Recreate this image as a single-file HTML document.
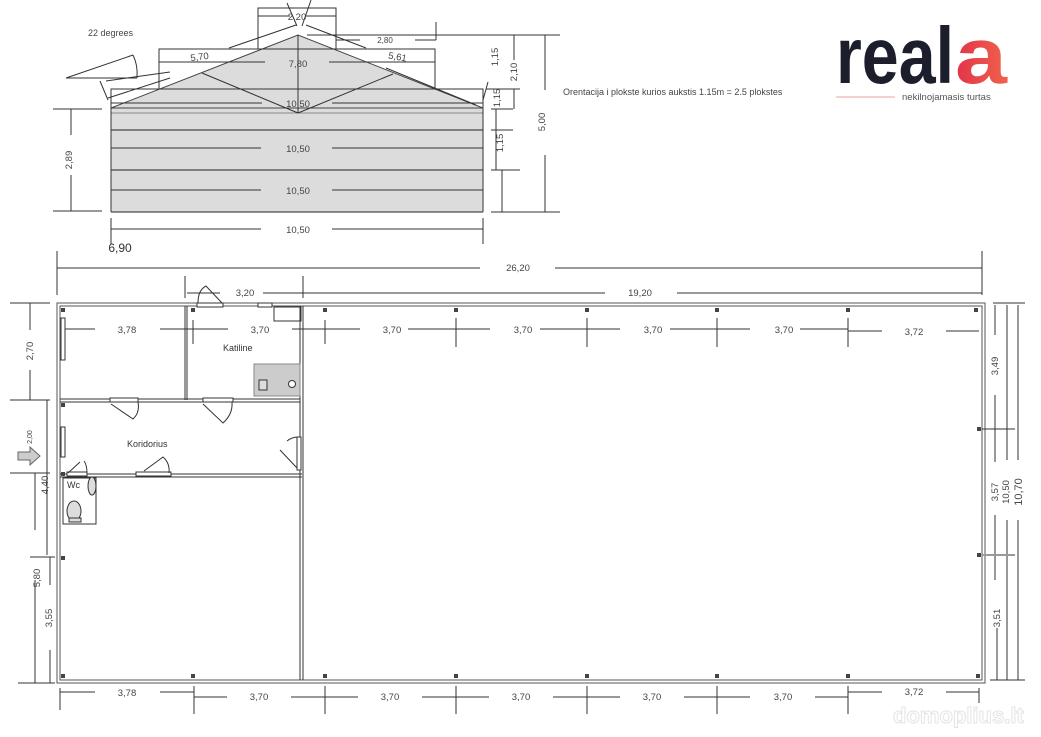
<!DOCTYPE html>
<html><head><meta charset="utf-8"><style>
html,body{margin:0;padding:0;background:#fff;}
svg{display:block;font-family:"Liberation Sans",sans-serif;}
.t{font-size:9.5px;fill:#444;text-anchor:middle;}
.s{font-size:8px;fill:#444;text-anchor:middle;}
</style></head><body>
<svg width="1041" height="737" viewBox="0 0 1041 737" xmlns="http://www.w3.org/2000/svg">
<rect width="1041" height="737" fill="#fff"/>
<g stroke="#333" stroke-width="1" fill="none">
<rect x="111" y="108" width="372" height="104" fill="#dcdcdc" stroke="none"/>
<polygon points="111,108 298,35 483,108" fill="#dcdcdc" stroke="#444"/>
<line x1="111" y1="113" x2="483" y2="113" stroke="#888"/>
<line x1="111" y1="130" x2="483" y2="130" stroke="#222"/>
<line x1="111" y1="170" x2="483" y2="170" stroke="#222"/>
<line x1="111" y1="212" x2="483" y2="212" stroke="#222"/>
<line x1="111" y1="108" x2="111" y2="212"/>
<line x1="483" y1="108" x2="483" y2="212"/>
<line x1="298" y1="35" x2="298" y2="113"/>
<line x1="298" y1="113" x2="202" y2="73"/>
<line x1="298" y1="113" x2="393" y2="74"/>
<line x1="111" y1="103" x2="262" y2="103"/><line x1="332" y1="103" x2="483" y2="103"/>
<line x1="111" y1="148" x2="261" y2="148"/><line x1="332" y1="148" x2="483" y2="148"/>
<line x1="111" y1="190" x2="261" y2="190"/><line x1="332" y1="190" x2="483" y2="190"/>
<polyline points="111,108 111,89 483,89 483,108"/>
<polyline points="159,89 159,49 435,49 435,89"/>
<line x1="159" y1="62" x2="265" y2="62"/><line x1="329" y1="62" x2="435" y2="62"/>
<polyline points="258,49 258,8 336,8 336,49"/>
<line x1="258" y1="16" x2="290" y2="16"/><line x1="306" y1="16" x2="336" y2="16"/>
<line x1="229" y1="48" x2="296" y2="25"/><line x1="306" y1="25" x2="366" y2="48"/>
<line x1="287" y1="3" x2="297" y2="26"/><line x1="311" y1="0" x2="302" y2="26"/>
<line x1="307" y1="35" x2="560" y2="35"/><line x1="336" y1="40" x2="360" y2="40"/><line x1="415" y1="40" x2="436" y2="40"/>
<line x1="436" y1="22" x2="436" y2="40"/>
<line x1="106" y1="81" x2="170" y2="72"/><line x1="108" y1="98" x2="170" y2="78"/>
<line x1="66" y1="78" x2="133" y2="55"/><line x1="66" y1="78" x2="137" y2="78"/>
<path d="M133,55 Q138,65 137,78"/>
<line x1="100" y1="81" x2="108" y2="100"/>
<line x1="386" y1="68" x2="476" y2="105"/><line x1="483" y1="100" x2="488" y2="82"/>
<line x1="53" y1="109" x2="102" y2="109"/><line x1="53" y1="211" x2="102" y2="211"/>
<line x1="71" y1="109" x2="71" y2="135"/><line x1="71" y1="175" x2="71" y2="211"/>
<line x1="491" y1="109" x2="513" y2="109"/><line x1="491" y1="130" x2="513" y2="130"/>
<line x1="496" y1="109" x2="496" y2="170"/><line x1="491" y1="170" x2="520" y2="170"/>
<line x1="502" y1="170" x2="502" y2="212"/><line x1="491" y1="212" x2="560" y2="212"/>
<line x1="486" y1="89" x2="520" y2="89"/><line x1="514" y1="89" x2="514" y2="109"/>
<line x1="545" y1="35" x2="545" y2="90"/><line x1="545" y1="155" x2="545" y2="212"/>
<line x1="514" y1="35" x2="514" y2="60"/>
<line x1="111" y1="218" x2="111" y2="244"/><line x1="483" y1="218" x2="483" y2="244"/>
<line x1="111" y1="229" x2="261" y2="229"/><line x1="332" y1="229" x2="483" y2="229"/>
</g>
<g>
<text x="88" y="36" style="font-size:9px;fill:#444">22 degrees</text>
<text class="t" x="297" y="20">2,20</text>
<text class="s" x="385" y="43">2,80</text>
<text class="t" x="298" y="67">7,80</text>
<text class="t" x="200" y="60" transform="rotate(-8 200 60)">5,70</text>
<text class="t" x="397" y="60" transform="rotate(10 397 60)">5,61</text>
<text class="t" x="298" y="107">10,50</text>
<text class="t" x="298" y="152">10,50</text>
<text class="t" x="298" y="194">10,50</text>
<text class="t" x="298" y="233">10,50</text>
<text class="t" transform="translate(72 160) rotate(-90)">2,89</text>
<text class="t" transform="translate(498 57) rotate(-90)">1,15</text>
<text class="t" transform="translate(517 72) rotate(-90)">2,10</text>
<text class="t" transform="translate(500 98) rotate(-90)">1,15</text>
<text class="t" transform="translate(503 143) rotate(-90)">1,15</text>
<text class="t" transform="translate(545 122) rotate(-90)">5,00</text>
<text x="563" y="95" style="font-size:9px;fill:#444">Orentacija i plokste kurios aukstis 1.15m = 2.5 plokstes</text>
</g>
<defs><linearGradient id="g" x1="0" x2="1"><stop offset="0" stop-color="#e2334b"/><stop offset="1" stop-color="#f0634c"/></linearGradient></defs>
<text x="836" y="83" textLength="118" lengthAdjust="spacingAndGlyphs" style="font-size:80px;font-weight:bold;fill:#1c1e2c">real</text>
<text x="955" y="83" textLength="52" lengthAdjust="spacingAndGlyphs" style="font-size:80px;font-weight:bold;fill:url(#g)">a</text>
<line x1="836" y1="97" x2="895" y2="97" stroke="#e8a0a0"/>
<text x="902" y="100" style="font-size:9.5px;fill:#555">nekilnojamasis turtas</text>
<g stroke="#333" fill="none" stroke-width="1">
<text class="t" x="120" y="252" style="font-size:12px;fill:#333" stroke="none">6,90</text>
<line x1="57" y1="251" x2="57" y2="295"/><line x1="982" y1="251" x2="982" y2="295"/>
<line x1="57" y1="268" x2="480" y2="268"/><line x1="555" y1="268" x2="982" y2="268"/>
<line x1="185" y1="276" x2="185" y2="298"/><line x1="303" y1="276" x2="303" y2="298"/>
<line x1="187" y1="293" x2="220" y2="293"/><line x1="263" y1="293" x2="303" y2="293"/>
<line x1="303" y1="293" x2="605" y2="293"/><line x1="677" y1="293" x2="982" y2="293"/>
<rect x="57" y="303" width="928" height="380" stroke="#555"/>
<rect x="60" y="306" width="922" height="374" stroke="#555"/>
<line x1="300" y1="306" x2="300" y2="680"/><line x1="303" y1="306" x2="303" y2="680"/>
<line x1="185" y1="306" x2="185" y2="400"/><line x1="187" y1="306" x2="187" y2="400"/>
<line x1="60" y1="399" x2="300" y2="399"/><line x1="60" y1="402" x2="300" y2="402"/>
<line x1="60" y1="474" x2="302" y2="474"/><line x1="60" y1="477" x2="302" y2="477"/>
<rect x="197" y="303" width="26" height="4" fill="#fff"/><rect x="258" y="303" width="14" height="4" fill="#fff"/>
<rect x="274" y="307" width="27" height="14"/>
<rect x="254" y="364" width="46" height="32" fill="#ccc" stroke="#888"/>
<rect x="259" y="380" width="8" height="10" fill="#ddd"/><circle cx="292" cy="384" r="3.5" fill="#fff"/>
<path d="M198,303 Q198,290 206,286 L222,303"/>
<rect x="110" y="398" width="28" height="4" fill="#fff"/><rect x="203" y="398" width="30" height="4" fill="#fff"/>
<path d="M111,404 L133,419 Q140,413 138,402"/><path d="M203,404 L223,423 Q233,414 232,402"/>
<rect x="136" y="472" width="35" height="4" fill="#fff"/><path d="M144,471 L163,457 Q170,463 169,473"/>
<rect x="297" y="437" width="4" height="33" fill="#fff"/><path d="M280,450 L297,468 M287,441 Q292,437 298,437"/>
<rect x="61" y="318" width="4" height="42" fill="#fff"/><rect x="61" y="427" width="4" height="30" fill="#fff"/>
<rect x="67" y="472" width="20" height="4" fill="#fff"/><path d="M68,473 L80,462 M84,461 Q87,465 87,473"/>
<rect x="63" y="478" width="33" height="46"/>
<ellipse cx="92" cy="486" rx="4" ry="9" fill="#ddd"/><ellipse cx="74" cy="511" rx="7" ry="10" fill="#ddd"/>
<rect x="69" y="518" width="12" height="4" fill="#ddd"/>
<line x1="65" y1="329" x2="95" y2="329"/><line x1="160" y1="329" x2="193" y2="329"/>
<line x1="193" y1="320" x2="193" y2="344"/><line x1="193" y1="329" x2="228" y2="329"/><line x1="292" y1="329" x2="325" y2="329"/>
<line x1="325" y1="320" x2="325" y2="344"/><line x1="325" y1="329" x2="360" y2="329"/><line x1="408" y1="329" x2="456" y2="329"/>
<line x1="456" y1="318" x2="456" y2="347"/><line x1="456" y1="329" x2="490" y2="329"/><line x1="540" y1="329" x2="587" y2="329"/>
<line x1="587" y1="318" x2="587" y2="347"/><line x1="587" y1="329" x2="620" y2="329"/><line x1="670" y1="329" x2="717" y2="329"/>
<line x1="717" y1="318" x2="717" y2="347"/><line x1="717" y1="329" x2="750" y2="329"/><line x1="800" y1="329" x2="848" y2="329"/>
<line x1="848" y1="318" x2="848" y2="347"/><line x1="848" y1="331" x2="882" y2="331"/><line x1="946" y1="331" x2="979" y2="331"/>
<line x1="60" y1="688" x2="60" y2="710"/><line x1="60" y1="692" x2="95" y2="692"/><line x1="160" y1="692" x2="194" y2="692"/>
<line x1="194" y1="686" x2="194" y2="714"/><line x1="194" y1="697" x2="227" y2="697"/><line x1="291" y1="697" x2="325" y2="697"/>
<line x1="325" y1="686" x2="325" y2="714"/><line x1="325" y1="697" x2="358" y2="697"/><line x1="422" y1="697" x2="456" y2="697"/>
<line x1="456" y1="686" x2="456" y2="714"/><line x1="456" y1="697" x2="489" y2="697"/><line x1="553" y1="697" x2="587" y2="697"/>
<line x1="587" y1="686" x2="587" y2="714"/><line x1="587" y1="697" x2="620" y2="697"/><line x1="684" y1="697" x2="717" y2="697"/>
<line x1="717" y1="686" x2="717" y2="714"/><line x1="717" y1="697" x2="750" y2="697"/><line x1="815" y1="697" x2="848" y2="697"/>
<line x1="848" y1="686" x2="848" y2="714"/><line x1="848" y1="692" x2="882" y2="692"/><line x1="946" y1="692" x2="979" y2="692"/>
<line x1="979" y1="688" x2="979" y2="703"/>
<line x1="10" y1="303" x2="50" y2="303"/><line x1="30" y1="303" x2="30" y2="330"/><line x1="30" y1="370" x2="30" y2="400"/>
<line x1="10" y1="400" x2="50" y2="400"/><line x1="47" y1="400" x2="47" y2="555"/>
<line x1="10" y1="473" x2="50" y2="473"/><line x1="35" y1="473" x2="35" y2="530"/><line x1="35" y1="580" x2="35" y2="683"/>
<line x1="30" y1="557" x2="55" y2="557"/><line x1="50" y1="557" x2="50" y2="585"/><line x1="50" y1="650" x2="50" y2="683"/>
<line x1="18" y1="683" x2="55" y2="683"/>
<line x1="993" y1="303" x2="1025" y2="303"/>
<line x1="995" y1="305" x2="995" y2="335"/><line x1="995" y1="395" x2="995" y2="462"/>
<line x1="1007" y1="305" x2="1007" y2="460"/><line x1="1018" y1="305" x2="1018" y2="460"/>
<line x1="982" y1="429" x2="1015" y2="429"/>
<line x1="995" y1="515" x2="995" y2="580"/><line x1="1007" y1="520" x2="1007" y2="680"/><line x1="1018" y1="520" x2="1018" y2="680"/>
<line x1="982" y1="555" x2="1015" y2="555" stroke="#999" stroke-width="2"/>
<line x1="997" y1="628" x2="997" y2="680"/><line x1="990" y1="680" x2="1025" y2="680"/>
</g>
<g fill="#444">
<rect x="61" y="308" width="4" height="4"/><rect x="191" y="308" width="4" height="4"/><rect x="323" y="308" width="4" height="4"/>
<rect x="454" y="308" width="4" height="4"/><rect x="585" y="308" width="4" height="4"/><rect x="715" y="308" width="4" height="4"/>
<rect x="846" y="308" width="4" height="4"/><rect x="974" y="308" width="4" height="4"/>
<rect x="61" y="674" width="4" height="4"/><rect x="191" y="674" width="4" height="4"/><rect x="323" y="674" width="4" height="4"/>
<rect x="454" y="674" width="4" height="4"/><rect x="585" y="674" width="4" height="4"/><rect x="715" y="674" width="4" height="4"/>
<rect x="846" y="674" width="4" height="4"/><rect x="976" y="674" width="4" height="4"/>
<rect x="61" y="403" width="4" height="4"/><rect x="61" y="472" width="4" height="4"/><rect x="61" y="556" width="4" height="4"/>
<rect x="977" y="427" width="4" height="4"/><rect x="977" y="553" width="4" height="4"/>
</g>
<polygon points="18,452 30,452 30,447 40,456 30,465 30,460 18,460" fill="#ccc" stroke="#666"/>
<g>
<text class="t" x="245" y="296">3,20</text>
<text class="t" x="640" y="296">19,20</text>
<text class="t" x="518" y="271">26,20</text>
<text class="t" x="127" y="333">3,78</text>
<text class="t" x="260" y="333">3,70</text>
<text class="t" x="392" y="333">3,70</text>
<text class="t" x="523" y="333">3,70</text>
<text class="t" x="653" y="333">3,70</text>
<text class="t" x="784" y="333">3,70</text>
<text class="t" x="914" y="335">3,72</text>
<text x="223" y="351" style="font-size:9px;fill:#333">Katiline</text>
<text x="127" y="447" style="font-size:9px;fill:#333">Koridorius</text>
<text x="67" y="488" style="font-size:9px;fill:#333">Wc</text>
<text class="t" x="127" y="696">3,78</text>
<text class="t" x="259" y="700">3,70</text>
<text class="t" x="390" y="700">3,70</text>
<text class="t" x="521" y="700">3,70</text>
<text class="t" x="652" y="700">3,70</text>
<text class="t" x="783" y="700">3,70</text>
<text class="t" x="914" y="695">3,72</text>
<text class="t" transform="translate(33 351) rotate(-90)">2,70</text>
<text class="s" style="font-size:7px" transform="translate(32 437) rotate(-90)">2,00</text>
<text class="t" transform="translate(48 485) rotate(-90)">4,40</text>
<text class="t" transform="translate(40 578) rotate(-90)">5,80</text>
<text class="t" transform="translate(52 618) rotate(-90)">3,55</text>
<text class="t" transform="translate(998 366) rotate(-90)">3,49</text>
<text class="t" transform="translate(998 492) rotate(-90)">3,57</text>
<text class="t" transform="translate(1009 492) rotate(-90)">10,50</text>
<text class="t" style="font-size:11px" transform="translate(1022 492) rotate(-90)">10,70</text>
<text class="t" transform="translate(1000 618) rotate(-90)">3,51</text>
<text x="893" y="723" style="font-size:22px;font-weight:bold;fill:#fff;stroke:#e4e4e4;stroke-width:1">domoplius.lt</text>
</g>
</svg>
</body></html>
